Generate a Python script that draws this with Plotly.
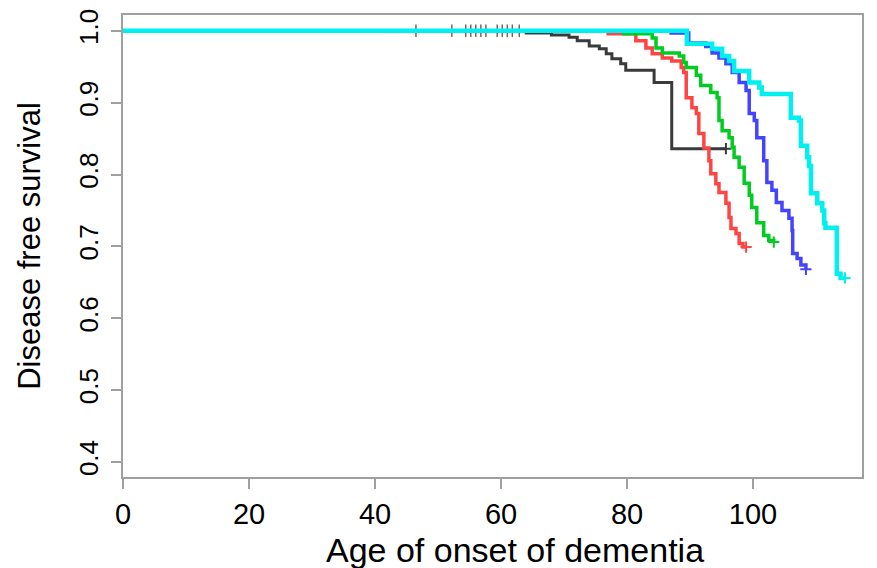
import plotly.graph_objects as go

# Kaplan-Meier step data (time, survival)
black_t = [0, 64, 68, 70.8, 72.1, 74, 75.6, 76.7, 77.6, 79, 79.8, 84.3, 87.1, 95.7]
black_s = [1.0, 0.997, 0.994, 0.991, 0.986, 0.979, 0.975, 0.968, 0.961, 0.954, 0.945, 0.928, 0.836, 0.836]

red_t = [0, 77, 81.4, 83.0, 84.0, 85.6, 87.1, 88.6, 89.0, 89.4, 90.3, 91.0, 91.4, 92.2, 93.0,
         93.3, 94.1, 94.6, 95.7, 96.2, 96.5, 97.3, 97.8, 98.4, 98.9]
red_s = [1.0, 0.996, 0.986, 0.976, 0.968, 0.962, 0.958, 0.949, 0.942, 0.907, 0.893, 0.885, 0.857, 0.837, 0.819,
         0.801, 0.787, 0.775, 0.760, 0.740, 0.725, 0.718, 0.704, 0.699, 0.699]

green_t = [0, 79.5, 84.0, 84.6, 85.6, 88.3, 89.0, 89.4, 91.0, 91.7, 93.3, 94.3, 94.6, 95.1, 96.2, 96.7,
           97.0, 97.8, 98.6, 99.4, 99.8, 100.6, 101.7, 102.5, 103.3]
green_s = [1.0, 0.996, 0.990, 0.976, 0.969, 0.965, 0.956, 0.949, 0.938, 0.924, 0.914, 0.907, 0.875, 0.861, 0.851, 0.838,
           0.824, 0.810, 0.788, 0.771, 0.754, 0.733, 0.715, 0.708, 0.706]

blue_t = [0, 87, 89.8, 92.5, 93.5, 94.6, 95.7, 96.7, 97.8, 98.9, 99.4, 100.2, 100.6, 101.7, 102.2, 103.0,
          103.7, 104.6, 105.7, 106.2, 106.3, 107.0, 107.6, 108.4]
blue_s = [1.0, 0.997, 0.983, 0.978, 0.969, 0.962, 0.954, 0.942, 0.928, 0.917, 0.885, 0.875, 0.851, 0.819, 0.789, 0.778,
          0.761, 0.750, 0.739, 0.722, 0.690, 0.683, 0.674, 0.668]

cyan_t = [0, 89.5, 93.5, 95.1, 96.2, 97.0, 99.4, 101.0, 101.4, 106.0, 107.3, 107.6, 108.6, 108.9, 109.2,
          110.2, 111.0, 111.3, 111.5, 113.3, 113.9, 114.6]
cyan_s = [1.0, 0.982, 0.975, 0.965, 0.958, 0.944, 0.928, 0.921, 0.912, 0.879, 0.875, 0.840, 0.824, 0.812, 0.774,
          0.760, 0.750, 0.732, 0.726, 0.662, 0.656, 0.656]

censor_t = [46.5, 52.2, 54.4, 55.2, 56.0, 56.8, 57.6, 59.4, 60.2, 61.0, 61.8, 62.9]
censor_s = [1.0] * len(censor_t)

x_ticks = [0, 20, 40, 60, 80, 100]
y_ticks = [0.4, 0.5, 0.6, 0.7, 0.8, 0.9, 1.0]
y_labels = ["0.4", "0.5", "0.6", "0.7", "0.8", "0.9", "1.0"]

x_title = "Age of onset of dementia"
y_title = "Disease free survival"

series = [
    ("black", black_t, black_s, "#3a3a3a", 3),
    ("red", red_t, red_s, "#ff4444", 3.5),
    ("green", green_t, green_s, "#00cc22", 3.5),
    ("blue", blue_t, blue_s, "#4444ff", 3.5),
    ("cyan", cyan_t, cyan_s, "#00f0f0", 4.5),
]

fig = go.Figure()

fig.add_trace(go.Scatter(
    x=censor_t, y=censor_s, mode="markers",
    marker=dict(symbol="line-ns", size=9, line=dict(width=1.5, color="#806060")),
    showlegend=False, hoverinfo="skip"))

for name, t, s, col, w in series:
    fig.add_trace(go.Scatter(
        x=t, y=s, mode="lines", line=dict(color=col, width=w, shape="hv"),
        name=name, showlegend=False))
    fig.add_trace(go.Scatter(
        x=[t[-1]], y=[s[-1]], mode="markers",
        marker=dict(symbol="cross-thin", size=8, line=dict(width=2, color=col)),
        showlegend=False, hoverinfo="skip"))

fig.update_layout(
    width=869, height=560,
    margin=dict(l=115, r=15, t=7, b=91),
    plot_bgcolor="white", paper_bgcolor="white",
    font=dict(family="Liberation Sans, Arial, sans-serif", color="black"),
)

fig.add_annotation(
    text=x_title, xref="paper", yref="paper", x=0.53, y=-0.157,
    xanchor="center", yanchor="middle", showarrow=False,
    font=dict(size=34, color="black"))

fig.update_xaxes(
    range=[0, 117.3], tickvals=x_ticks, ticktext=[str(v) for v in x_ticks],
    showgrid=False, zeroline=False, automargin=False,
    showline=True, mirror=True, linecolor="#a0a0a0", linewidth=2,
    ticks="outside", ticklen=10, tickwidth=1.5, tickcolor="#a0a0a0",
    tickfont=dict(size=29),
)
fig.update_yaxes(
    range=[0.379, 1.022], tickvals=y_ticks, ticktext=y_labels,
    showgrid=False, zeroline=False, automargin=False,
    showline=True, mirror=True, linecolor="#a0a0a0", linewidth=2,
    ticks="outside", ticklen=10, tickwidth=1.5, tickcolor="#a0a0a0",
    tickangle=-90, tickfont=dict(size=26), ticklabelstandoff=3,
    title=dict(text=y_title, font=dict(size=31), standoff=24),
)

fig.write_html("out.html")
